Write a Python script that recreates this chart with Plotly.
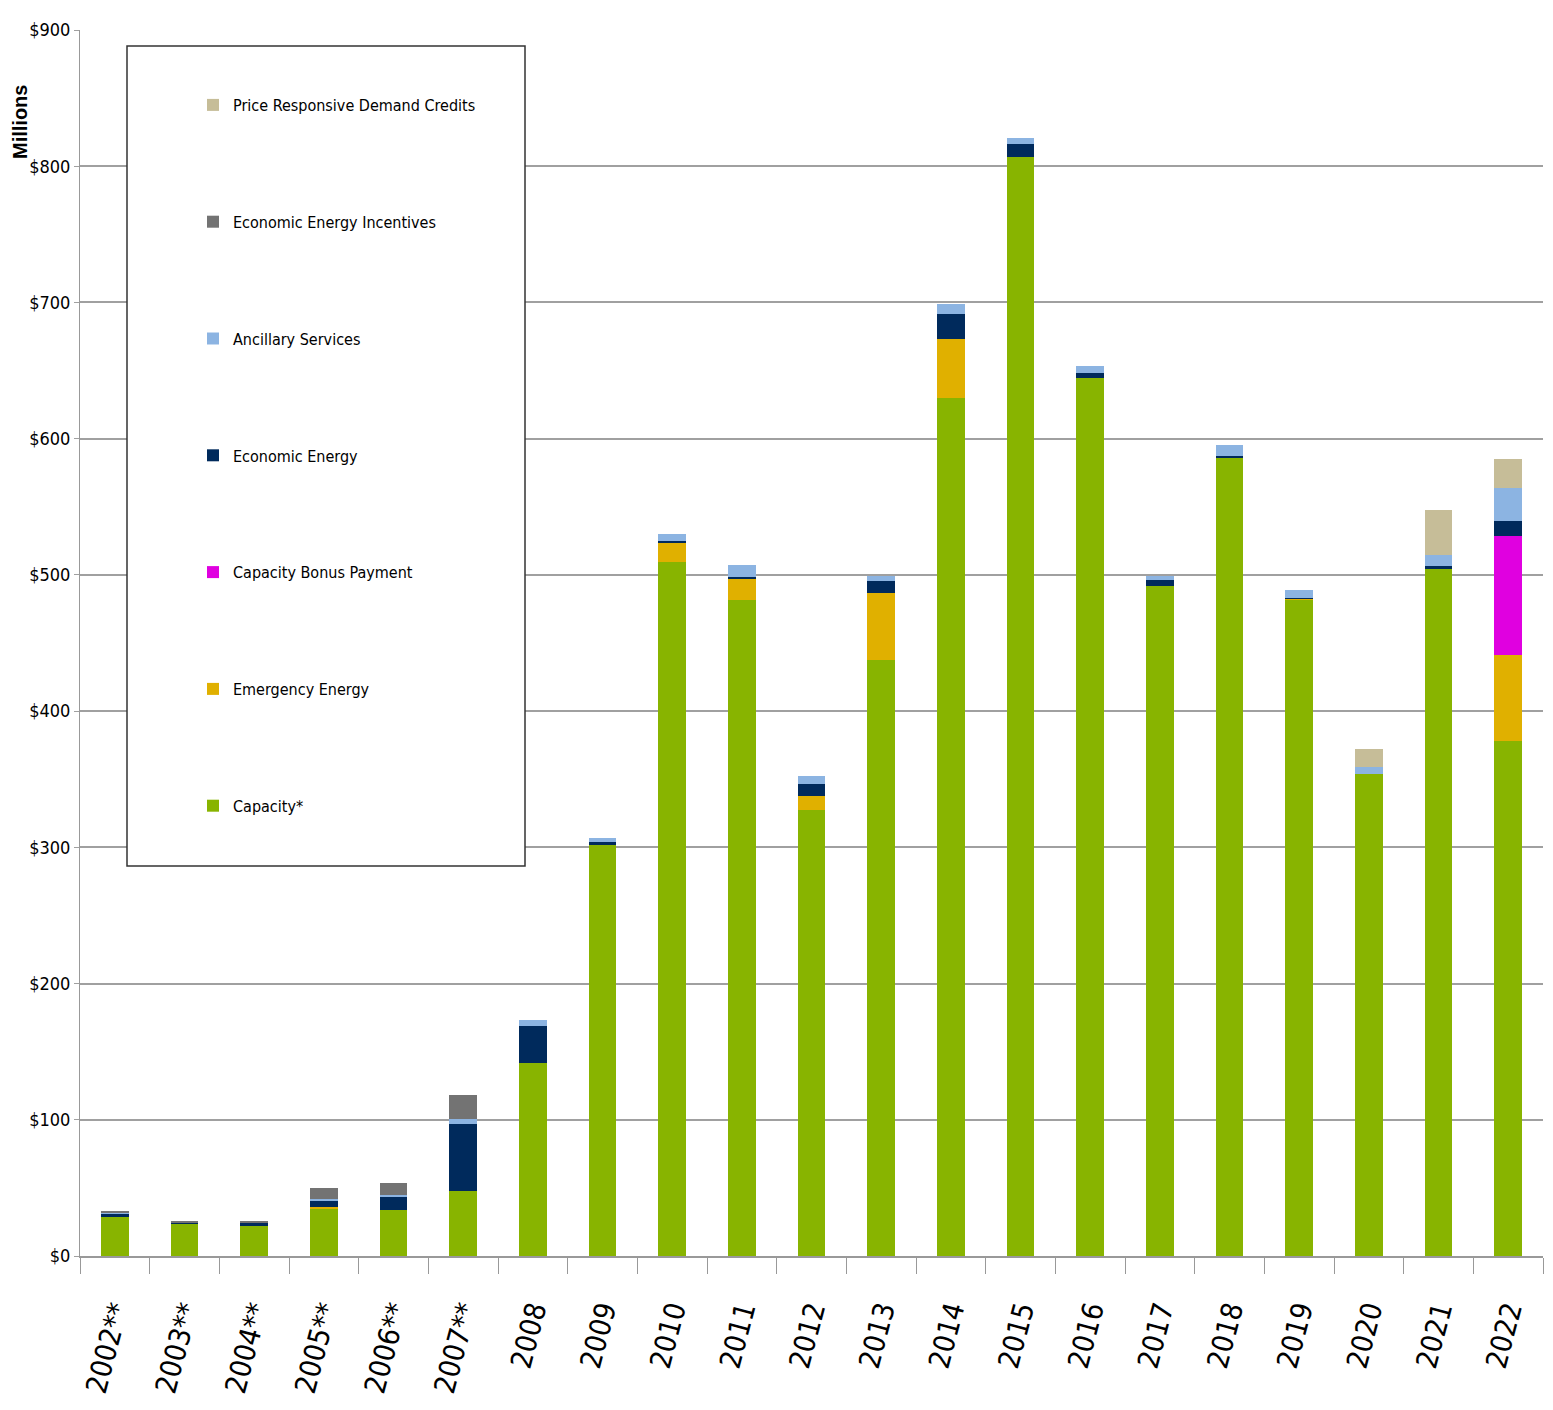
import plotly.graph_objects as go

years = ["2002**", "2003**", "2004**", "2005**", "2006**", "2007**", "2008", "2009", "2010",
         "2011", "2012", "2013", "2014", "2015", "2016", "2017", "2018", "2019", "2020", "2021", "2022"]

capacity = [29, 23.5, 22, 35, 34, 48, 142, 302, 509.5, 481.5, 327.5, 437.5, 630, 807, 644.5, 492, 586, 482, 354, 504, 378]
emergency = [0, 0, 0, 1, 0, 0, 0, 0, 14, 15.5, 10, 49, 43.5, 0, 0, 0, 0, 0.5, 0, 0, 63]
bonus = [0, 0, 0, 0, 0, 0, 0, 0, 0, 0, 0, 0, 0, 0, 0, 0, 0, 0, 0, 0, 87.5]
econ_energy = [2.5, 0.5, 2, 5, 9, 49, 26.5, 2, 1.5, 1.5, 9, 9, 18, 9, 3.5, 4, 1.5, 0.5, 0, 2.5, 11]
ancillary = [0.5, 0, 0, 0.5, 1.5, 3.5, 5, 3, 5, 9, 6, 3.5, 7, 5, 5, 3.5, 8, 6, 5, 8, 24]
eei = [0.5, 1.5, 1.5, 8.5, 9, 17.5, 0, 0, 0, 0, 0, 0, 0, 0, 0, 0, 0, 0, 0, 0, 0]
prd = [0, 0, 0, 0, 0, 0, 0, 0, 0, 0, 0, 0, 0, 0, 0, 0, 0, 0, 13, 33.5, 21.5]

y_ticks = [0, 100, 200, 300, 400, 500, 600, 700, 800, 900]
y_tick_labels = ["$0", "$100", "$200", "$300", "$400", "$500", "$600", "$700", "$800", "$900"]

series = [
    ("Capacity*", capacity, "#88b400"),
    ("Emergency Energy", emergency, "#e0b000"),
    ("Capacity Bonus Payment", bonus, "#e000e0"),
    ("Economic Energy", econ_energy, "#002a5c"),
    ("Ancillary Services", ancillary, "#8cb4e2"),
    ("Economic Energy Incentives", eei, "#737373"),
    ("Price Responsive Demand Credits", prd, "#c6bd98"),
]

FONT = "Liberation Sans Narrow, Arial Narrow, DejaVu Sans Condensed, sans-serif"

# page body has an 8px margin; figure is offset by (8, 8)
W, H = 1545, 1402
L, T = 72, 22
R = W - (1543 - 8)
B = H - (1256 - 8)
PW = W - L - R
PH = H - T - B

def px_x(x):
    return (x - 8 - L) / PW

def px_y(y):
    return (H - B - (y - 8)) / PH

fig = go.Figure()
n = len(series)
for i, (name, vals, color) in enumerate(series):
    fig.add_trace(go.Bar(
        x=years, y=vals, name=name, legendgroup=f"g{i}",
        legendrank=100 + (n - i),
        marker=dict(color=color, line=dict(width=0)),
    ))

fig.update_layout(
    barmode="stack",
    bargap=0.6,
    width=W, height=H,
    margin=dict(l=L, r=R, t=T, b=B, autoexpand=False),
    paper_bgcolor="white",
    plot_bgcolor="white",
    font=dict(family=FONT, color="black"),
    showlegend=True,
    legend=dict(
        traceorder="grouped",
        x=px_x(193), xanchor="left",
        y=px_y(88), yanchor="top",
        bgcolor="rgba(0,0,0,0)",
        borderwidth=0,
        font=dict(size=16, family=FONT, color="black"),
        tracegroupgap=93,
    ),
    xaxis=dict(
        type="category",
        tickangle=-75,
        tickfont=dict(size=29, family=FONT),
        ticks="outside", tickson="boundaries", ticklen=16, tickcolor="#999999",
        ticklabelstandoff=24,
        showline=True, linecolor="#999999", linewidth=2,
        showgrid=False, automargin=False,
    ),
    yaxis=dict(
        range=[0, 900],
        tickvals=y_ticks, ticktext=y_tick_labels,
        tickfont=dict(size=18, family=FONT),
        showgrid=True, gridcolor="#a0a0a0", gridwidth=2,
        showline=True, linecolor="#999999", linewidth=1,
        ticks="outside", ticklen=5, tickcolor="#a0a0a0",
        zeroline=False, automargin=False,
    ),
    shapes=[dict(
        type="rect", xref="paper", yref="paper",
        x0=px_x(127), x1=px_x(525),
        y0=px_y(866), y1=px_y(46),
        line=dict(color="#333333", width=1.5), fillcolor="white", layer="above",
    )],
    annotations=[dict(
        text="<b>Millions</b>", xref="paper", yref="paper",
        x=px_x(20), y=px_y(122),
        xanchor="center", yanchor="middle",
        textangle=-90, showarrow=False,
        font=dict(size=20, family="Liberation Sans, Arial, sans-serif", color="black"),
    )],
)

fig.write_html("out.html")
